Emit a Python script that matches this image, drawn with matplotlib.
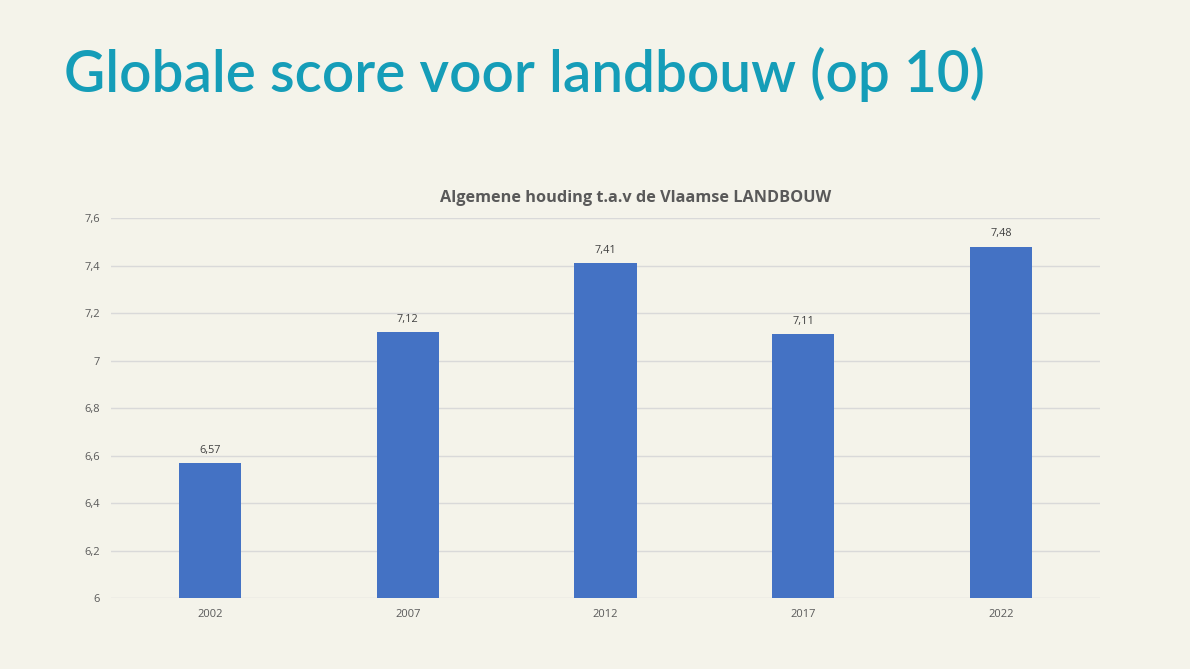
import matplotlib.pyplot as plt

# Data
years = ['2002', '2007', '2012', '2017', '2022']
scores = [6.57, 7.12, 7.41, 7.11, 7.48]
y_ticks = [6, 6.2, 6.4, 6.6, 6.8, 7, 7.2, 7.4, 7.6]

bg = '#f4f3ea'
fig = plt.figure(figsize=(11.9, 6.69), dpi=100, facecolor=bg)
ax = fig.add_axes([0.0933, 0.1061, 0.8311, 0.568], facecolor=bg)

# Slide title
fig.text(0.054, 0.8625, 'Globale score voor landbouw (op 10)', fontsize=40.8,
         color='#159db8', family='Lato', fontweight='semibold', va='baseline')

# Bars
x = range(len(years))
bars = ax.bar(x, [s - 6 for s in scores], bottom=6, width=0.315,
              color='#4472c4', zorder=3)
for xi, s in zip(x, scores):
    ax.text(xi, s + 0.03, f'{s:.2f}'.replace('.', ','), ha='center',
            va='bottom', fontsize=7.8, color='#404040', family='Open Sans')

ax.set_xlim(-0.5, len(years) - 0.5)
ax.set_ylim(6, 7.6)
ax.set_xticks(list(x))
ax.set_xticklabels(years)
ax.set_yticks(y_ticks)
ax.set_yticklabels([f'{t:g}'.replace('.', ',') for t in y_ticks])
ax.grid(axis='y', color='#d9d9d9', linewidth=1, zorder=0)
for sp in ax.spines.values():
    sp.set_visible(False)
ax.tick_params(length=0, labelsize=8, labelcolor='#595959', pad=8)
for lbl in ax.get_xticklabels() + ax.get_yticklabels():
    lbl.set_family('Open Sans')

# Chart title (sits a bit right of the plot centre, like the original)
fig.text(0.5345, 1 - 198 / 669, 'Algemene houding t.a.v de Vlaamse LANDBOUW',
         fontsize=11.7, fontweight='bold', color='#595959', family='Open Sans',
         ha='center', va='center')

fig.savefig('out.png', dpi=100, facecolor=bg)
